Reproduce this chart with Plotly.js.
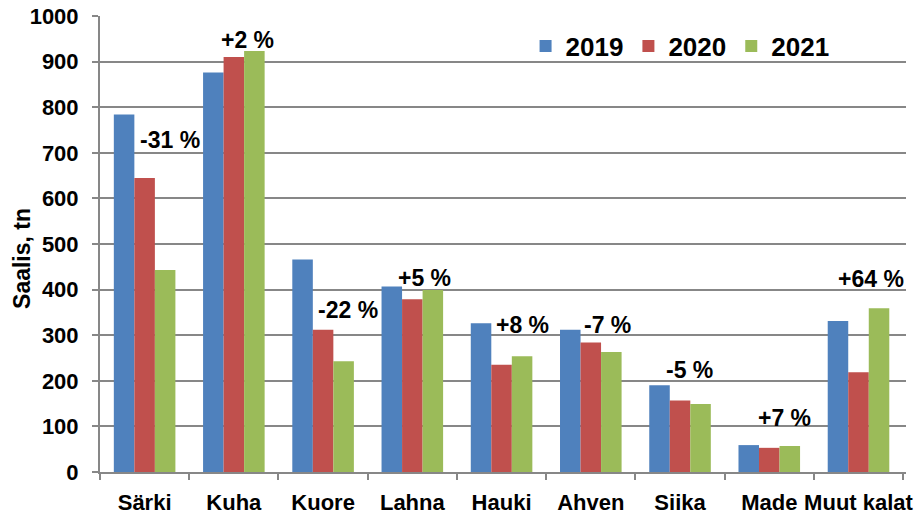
<!DOCTYPE html>
<html>
<head>
<meta charset="utf-8">
<script src="https://cdn.plot.ly/plotly-3.0.1.min.js"></script>
<style>html,body{margin:0;padding:0;background:#fff;}#chart{width:919px;height:516px;}</style>
</head>
<body>
<div id="chart"></div>
<script>
// ---- data ----
const categories = ["Särki", "Kuha", "Kuore", "Lahna", "Hauki", "Ahven", "Siika", "Made", "Muut kalat"];
const values2019 = [784, 876, 466, 407, 326, 312, 190, 59, 331];
const values2020 = [645, 910, 312, 379, 235, 284, 157, 53, 219];
const values2021 = [443, 923, 243, 399, 254, 263, 149, 57, 359];
const seriesNames = ["2019", "2020", "2021"];
const changeLabels = ["-31 %", "+2 %", "-22 %", "+5 %", "+8 %", "-7 %", "-5 %", "+7 %", "+64 %"];
const yTickValues = [0, 100, 200, 300, 400, 500, 600, 700, 800, 900, 1000];
const yTitle = "Saalis, tn";

// ---- layout-only placement of change labels (category offset, y level) ----
const labelDx = [0.28, 0.15, 0.28, 0.14, 0.24, 0.19, 0.11, 0.17, 0.14];
const labelY  = [728, 947, 355, 425, 322, 322, 224, 118, 423];

const colors = ["#4F81BD", "#C0504D", "#9BBB59"];
const FONT = "Liberation Sans, Arial, sans-serif";
const seriesValues = [values2019, values2020, values2021];

const traces = seriesValues.map((vals, i) => ({
  type: "bar",
  name: seriesNames[i],
  x: categories,
  y: vals,
  marker: {color: colors[i], line: {width: 0}},
  hoverinfo: "x+y+name"
}));

const annotations = changeLabels.map((t, i) => ({
  x: i + labelDx[i],
  y: labelY[i],
  xref: "x", yref: "y",
  text: t,
  showarrow: false,
  xanchor: "center", yanchor: "middle",
  font: {family: FONT, size: 23, color: "#000", weight: "bold"}
}));
// y-axis title (placed as rotated text next to the tick labels)
annotations.push({
  x: -0.097, y: 0.469, xref: "paper", yref: "paper",
  text: yTitle, textangle: -90, showarrow: false,
  xanchor: "center", yanchor: "middle",
  font: {family: FONT, size: 23, color: "#000", weight: "bold"}
});

const gray = "#878787";
const layout = {
  width: 919, height: 516,
  margin: {l: 100, r: 13, t: 16, b: 44},
  paper_bgcolor: "#fff", plot_bgcolor: "#fff",
  barmode: "group",
  bargap: 0.31,
  bargroupgap: 0,
  showlegend: true,
  legend: {
    orientation: "h",
    x: 0.528, xanchor: "left",
    y: 0.934, yanchor: "middle",
    bgcolor: "rgba(0,0,0,0)",
    font: {family: FONT, size: 26, color: "#000", weight: "bold"},
    traceorder: "normal"
  },
  xaxis: {
    type: "category",
    showline: true, linecolor: gray, linewidth: 2,
    ticks: "outside", tickson: "boundaries", ticklen: 6, tickwidth: 2, tickcolor: gray,
    tickfont: {family: FONT, size: 22, color: "#000", weight: "bold"},
    tickangle: 0,
    ticklabelstandoff: 10,
    showgrid: false, zeroline: false,
    fixedrange: true
  },
  yaxis: {
    range: [0, 1000],
    tickvals: yTickValues,
    ticktext: yTickValues.map(String),
    showline: true, linecolor: gray, linewidth: 2,
    ticks: "outside", ticklen: 6, tickwidth: 2, tickcolor: gray,
    tickfont: {family: FONT, size: 22, color: "#000", weight: "bold"},
    ticklabelstandoff: 9,
    showgrid: true, gridcolor: gray, gridwidth: 2,
    zeroline: false,
    automargin: false,
    fixedrange: true
  },
  annotations: annotations
};

Plotly.newPlot("chart", traces, layout, {displayModeBar: false, staticPlot: true});
</script>
</body>
</html>
